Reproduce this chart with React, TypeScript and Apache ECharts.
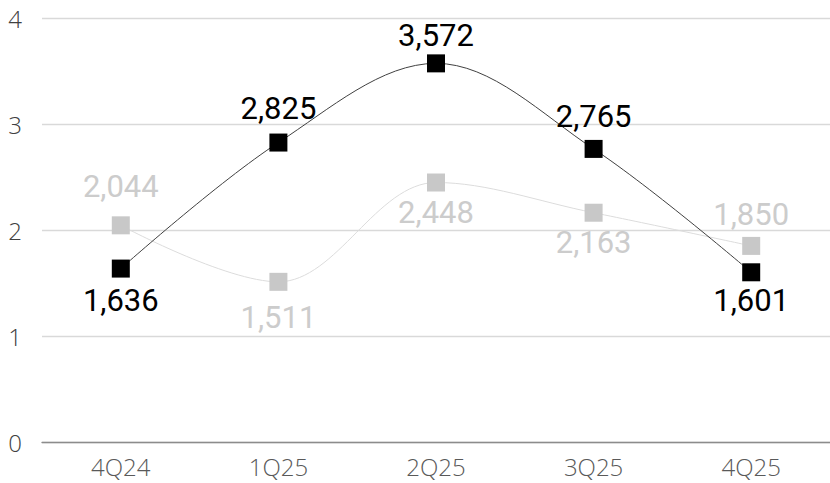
import React, { useEffect, useRef } from "react";
import * as echarts from "echarts";

const quarters = ["4Q24", "1Q25", "2Q25", "3Q25", "4Q25"];
const seriesA = [1.636, 2.825, 3.572, 2.765, 1.601];
const seriesB = [2.044, 1.511, 2.448, 2.163, 1.85];

// label placement around each marker
const labelPosA = ["bottom", "top", "top", "top", "bottom"];
const labelPosB = ["top", "bottom", "bottom", "bottom", "top"];
const labelGapA = [7, 10, 3, 8, 4];
const labelGapB = [14, 11, 5, 5, 7];

const fmt = (v: number) => v.toFixed(3).replace(".", ",");

export default function App() {
  const ref = useRef<HTMLDivElement>(null);
  useEffect(() => {
    if (!ref.current) return;
    const chart = echarts.init(ref.current, null, { renderer: "svg" });
    const build = (vals: number[], pos: string[], gaps: number[]) =>
      vals.map((v, i) => ({ value: v, label: { position: pos[i], distance: gaps[i] } }));
    const valueLabel = (color: string) => ({
      show: true,
      formatter: (p: any) => fmt(p.value),
      color,
      fontFamily: "Roboto",
      fontWeight: 400,
      fontSize: 31,
    });
    chart.setOption({
      animation: false,
      grid: { left: 42, top: 18, width: 798, height: 424, containLabel: false },
      xAxis: {
        type: "category",
        data: quarters,
        axisTick: { show: false },
        axisLine: { lineStyle: { color: "#8c8c8c", width: 1.3 } },
        axisLabel: {
          color: "#595959",
          fontFamily: "Open Sans",
          fontWeight: 300,
          fontSize: 24,
          margin: 12,
        },
      },
      yAxis: {
        type: "value",
        min: 0,
        max: 4,
        interval: 1,
        axisLine: { show: false },
        axisTick: { show: false },
        splitLine: { lineStyle: { color: "#d9d9d9", width: 1.3 } },
        axisLabel: {
          color: "#404040",
          fontFamily: "Open Sans",
          fontWeight: 300,
          fontSize: 24,
          margin: 20,
        },
      },
      series: [
        {
          type: "line",
          data: build(seriesB, labelPosB, labelGapB),
          smooth: 0.35,
          symbol: "rect",
          symbolSize: 18,
          itemStyle: { color: "#c8c8c8" },
          lineStyle: { color: "#dcdcdc", width: 1 },
          label: valueLabel("#cccccc"),
          z: 2,
        },
        {
          type: "line",
          data: build(seriesA, labelPosA, labelGapA),
          smooth: 0.35,
          symbol: "rect",
          symbolSize: 18,
          itemStyle: { color: "#000000" },
          lineStyle: { color: "#404040", width: 1 },
          label: valueLabel("#000000"),
          z: 3,
        },
      ],
    });
    return () => chart.dispose();
  }, []);
  return <div ref={ref} style={{ width: 830, height: 483, position: "absolute", left: 0, top: 0 }} />;
}
